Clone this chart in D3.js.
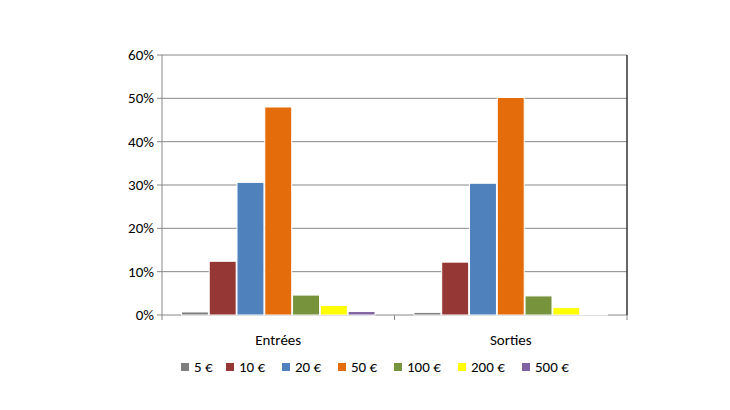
<!DOCTYPE html><html><head><meta charset="utf-8"><script src="https://cdn.jsdelivr.net/npm/d3@7"></script>
<style>body{margin:0;background:#fff}text{font-family:Calibri,Carlito,"Liberation Sans",sans-serif}</style></head><body>
<svg id="c" width="730" height="410"></svg>
<script>
const categories=["Entrées","Sorties"];
const series=["5 €","10 €","20 €","50 €","100 €","200 €","500 €"];
const colors=["#7f7f7f","#953735","#4f81bd","#e46c0a","#77933c","#ffff00","#8064a2"];
const entrees=[0.7,12.4,30.6,48.0,4.6,2.2,0.8];
const sorties=[0.6,12.2,30.4,50.2,4.4,1.7,0.2];
const values=[entrees,sorties];
const yTicks=[0,10,20,30,40,50,60];
const svg=d3.select("#c");
const L=162,R=627,T=55,B=315;
const x0=d3.scaleBand().domain(categories).range([L,R]);
const x1=d3.scaleBand().domain(series).range([0,x0.bandwidth()]).paddingOuter(0.7).paddingInner(0.03);
const y=d3.scaleLinear().domain([0,60]).range([B,T]);
svg.append("g").selectAll("line").data(yTicks).join("line").attr("x1",L-5).attr("x2",R).attr("y1",d=>y(d)).attr("y2",d=>y(d)).attr("stroke","#888").attr("stroke-width",1);
svg.append("g").selectAll("text").data(yTicks).join("text").attr("x",L-8).attr("y",d=>y(d)+5).attr("text-anchor","end").attr("font-size",15).text(d=>d+"%");
svg.append("line").attr("x1",L).attr("x2",L).attr("y1",T).attr("y2",B).attr("stroke","#888");
svg.append("line").attr("x1",R).attr("x2",R).attr("y1",T).attr("y2",B).attr("stroke","#333").attr("stroke-width",1.5);
categories.forEach((c,i)=>{
 svg.append("g").selectAll("rect").data(values[i]).join("rect")
 .attr("x",(d,j)=>x0(c)+x1(series[j])).attr("width",x1.bandwidth())
 .attr("y",d=>y(d)).attr("height",d=>B-y(d)).attr("fill",(d,j)=>colors[j]).attr("stroke","#fff").attr("stroke-width",1);
 svg.append("text").attr("x",x0(c)+x0.bandwidth()/2).attr("y",345).attr("text-anchor","middle").attr("font-size",15).text(c);
});
[L,L+x0.bandwidth(),R].forEach(v=>svg.append("line").attr("x1",v).attr("x2",v).attr("y1",B).attr("y2",B+5).attr("stroke","#888"));
const lx=[181,226,282,338,394,458,522];
const lg=svg.append("g").selectAll("g").data(series).join("g").attr("transform",(d,i)=>`translate(${lx[i]},368)`);
lg.append("rect").attr("x",0).attr("y",-5).attr("width",8).attr("height",8).attr("fill",(d,i)=>colors[i]);
lg.append("text").attr("x",13).attr("y",4).attr("font-size",15).text(d=>d);
</script></body></html>
